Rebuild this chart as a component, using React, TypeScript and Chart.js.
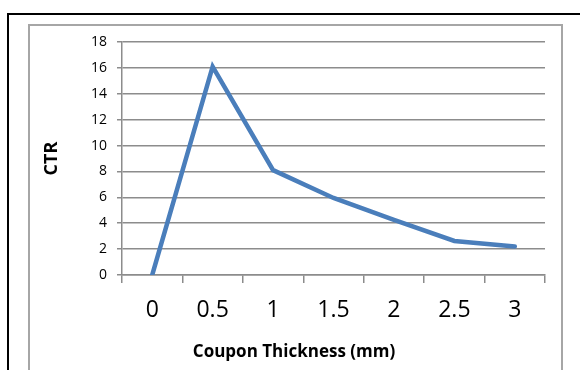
import React, { useEffect, useRef } from "react";
import { Chart, registerables } from "chart.js";

Chart.register(...registerables);

const categories = ["0", "0.5", "1", "1.5", "2", "2.5", "3"];
const ctrValues = [0, 16.1, 8.1, 5.95, 4.25, 2.63, 2.2];
const yTicks = { min: 0, max: 18, step: 2 };
const xTitle = "Coupon Thickness (mm)";
const yTitle = "CTR";

const FONT = "'Open Sans', 'Liberation Sans', sans-serif";

export default function App() {
  const ref = useRef<HTMLCanvasElement | null>(null);

  useEffect(() => {
    if (!ref.current) return;
    const chart = new Chart(ref.current, {
      type: "line",
      data: {
        labels: categories,
        datasets: [
          {
            data: ctrValues,
            borderColor: "#4A7EBB",
            backgroundColor: "#4A7EBB",
            borderWidth: 4.5,
            pointRadius: 0,
            pointHoverRadius: 0,
            tension: 0,
            borderCapStyle: "round",
            borderJoinStyle: "miter",
          },
        ],
      },
      options: {
        animation: false,
        responsive: false,
        maintainAspectRatio: false,
        events: [],
        layout: { padding: { left: 43, top: 42, right: 35, bottom: 0 } },
        plugins: {
          legend: { display: false },
          tooltip: { enabled: false },
          title: {
            display: true,
            position: "bottom",
            text: xTitle,
            color: "#000",
            font: { family: FONT, size: 17, weight: "bold", lineHeight: 1.2 },
            padding: { top: 0, bottom: 8 },
          },
        },
        scales: {
          x: {
            type: "category",
            offset: true,
            afterFit: (s: any) => {
              s.height = 95 - (17 * 1.2 + 8);
            },
            grid: {
              offset: true,
              drawOnChartArea: false,
              drawTicks: true,
              tickLength: 8,
              color: "#8c8c8c",
              lineWidth: 1.5,
            },
            border: { display: true, color: "#8c8c8c", width: 1.5 },
            ticks: {
              color: "#000",
              font: { family: FONT, size: 23 },
              padding: 14,
              maxRotation: 0,
              autoSkip: false,
            },
          },
          y: {
            min: yTicks.min,
            max: yTicks.max,
            afterFit: (s: any) => {
              s.width = 122 - 43;
            },
            grid: {
              drawTicks: true,
              tickLength: 5,
              color: "#8c8c8c",
              lineWidth: 1.5,
            },
            border: { display: true, color: "#8c8c8c", width: 1.5 },
            ticks: {
              stepSize: yTicks.step,
              color: "#000",
              font: { family: FONT, size: 14 },
              padding: 10,
            },
            title: {
              display: true,
              text: yTitle,
              color: "#000",
              font: { family: FONT, size: 18, weight: "bold", lineHeight: 1 },
              padding: { top: 0, bottom: 0 },
            },
          },
        },
      },
    });
    return () => chart.destroy();
  }, []);

  return (
    <div
      style={{
        position: "fixed",
        left: 0,
        top: 0,
        width: 580,
        height: 370,
        overflow: "hidden",
        background: "#fff",
      }}
    >
      <div
        style={{
          position: "absolute",
          left: 7,
          top: 13,
          width: 620,
          height: 400,
          borderTop: "2px solid #000",
          borderLeft: "2px solid #000",
        }}
      />
      <div
        style={{
          position: "absolute",
          left: 28,
          top: 24,
          width: 535,
          height: 400,
          boxSizing: "border-box",
          border: "2px solid #a6a6a6",
        }}
      />
      <canvas
        ref={ref}
        width={580}
        height={370}
        style={{ position: "absolute", left: 0, top: 0, width: 580, height: 370 }}
      />
    </div>
  );
}
